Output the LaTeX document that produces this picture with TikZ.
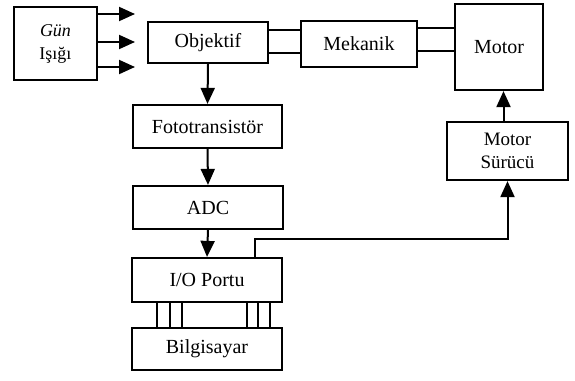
\documentclass[tikz,border=0pt]{standalone}
\usepackage{fontspec}
\setmainfont{Liberation Serif}
\usetikzlibrary{arrows.meta}
\begin{document}
\begin{tikzpicture}[x=1pt,y=-1pt,
  blk/.style={draw,line width=2.2pt,minimum width=#1,inner sep=0pt,font=\fontsize{20}{23}\selectfont,align=center},
  ln/.style={line width=2pt},
  arr/.style={line width=2pt,-{Triangle[length=16pt,width=14pt]}}]
\useasboundingbox (0,0) rectangle (575,380);
\node[blk=83pt,minimum height=73pt,font=\fontsize{18}{23}\selectfont] (gun) at (55.5,43.5) {\textit{Gün}\\Işığı};
\node[blk=120pt,minimum height=41pt] (obj) at (208,42.5) {Objektif};
\node[blk=116pt,minimum height=46pt] (mek) at (359,44) {Mekanik};
\node[blk=88pt,minimum height=86pt] (mot) at (499,47) {Motor};
\node[blk=121pt,minimum height=58pt,font=\fontsize{19}{23}\selectfont] (ms) at (507.5,151) {Motor\\Sürücü};
\node[blk=149pt,minimum height=43pt] (foto) at (207.5,126.5) {Fototransistör};
\node[blk=150pt,minimum height=43pt] (adc) at (208,207.5) {ADC};
\node[blk=150pt,minimum height=44pt] (io) at (207,280) {I/O Portu};
\node[blk=150pt,minimum height=42pt] (bil) at (207,349) {Bilgisayar};
% light arrows
\coordinate (g1) at (135,14);
\coordinate (g2) at (135,42);
\coordinate (g3) at (135,67);
\foreach \g in {g1,g2,g3} \draw[arr] (gun.east |- \g) -- (\g);
% shafts
\coordinate (s1) at (280,30);
\coordinate (s2) at (280,53);
\draw[ln] (obj.east |- s1) -- (mek.west |- s1);
\draw[ln] (obj.east |- s2) -- (mek.west |- s2);
\coordinate (s3) at (430,28);
\coordinate (s4) at (430,51);
\draw[ln] (mek.east |- s3) -- (mot.west |- s3);
\draw[ln] (mek.east |- s4) -- (mot.west |- s4);
% vertical chain
\draw[arr] (obj.south) -- (foto.north);
\draw[arr] (foto.south) -- (adc.north);
\draw[arr] (adc.south) -- (io.north);
\draw[arr] ([xshift=-4pt]ms.north) -- ([xshift=-4pt]ms.north |- mot.south);
% io to motor driver
\coordinate (c1) at (255,239);
\draw[arr] (io.north -| c1) -- (c1) -- (c1 -| ms.south) -- (ms.south);
% bus
\foreach \x in {157,170,182,247,258,270}
  \draw[ln] (io.south -| \x,0) -- (bil.north -| \x,0);
\end{tikzpicture}
\end{document}
